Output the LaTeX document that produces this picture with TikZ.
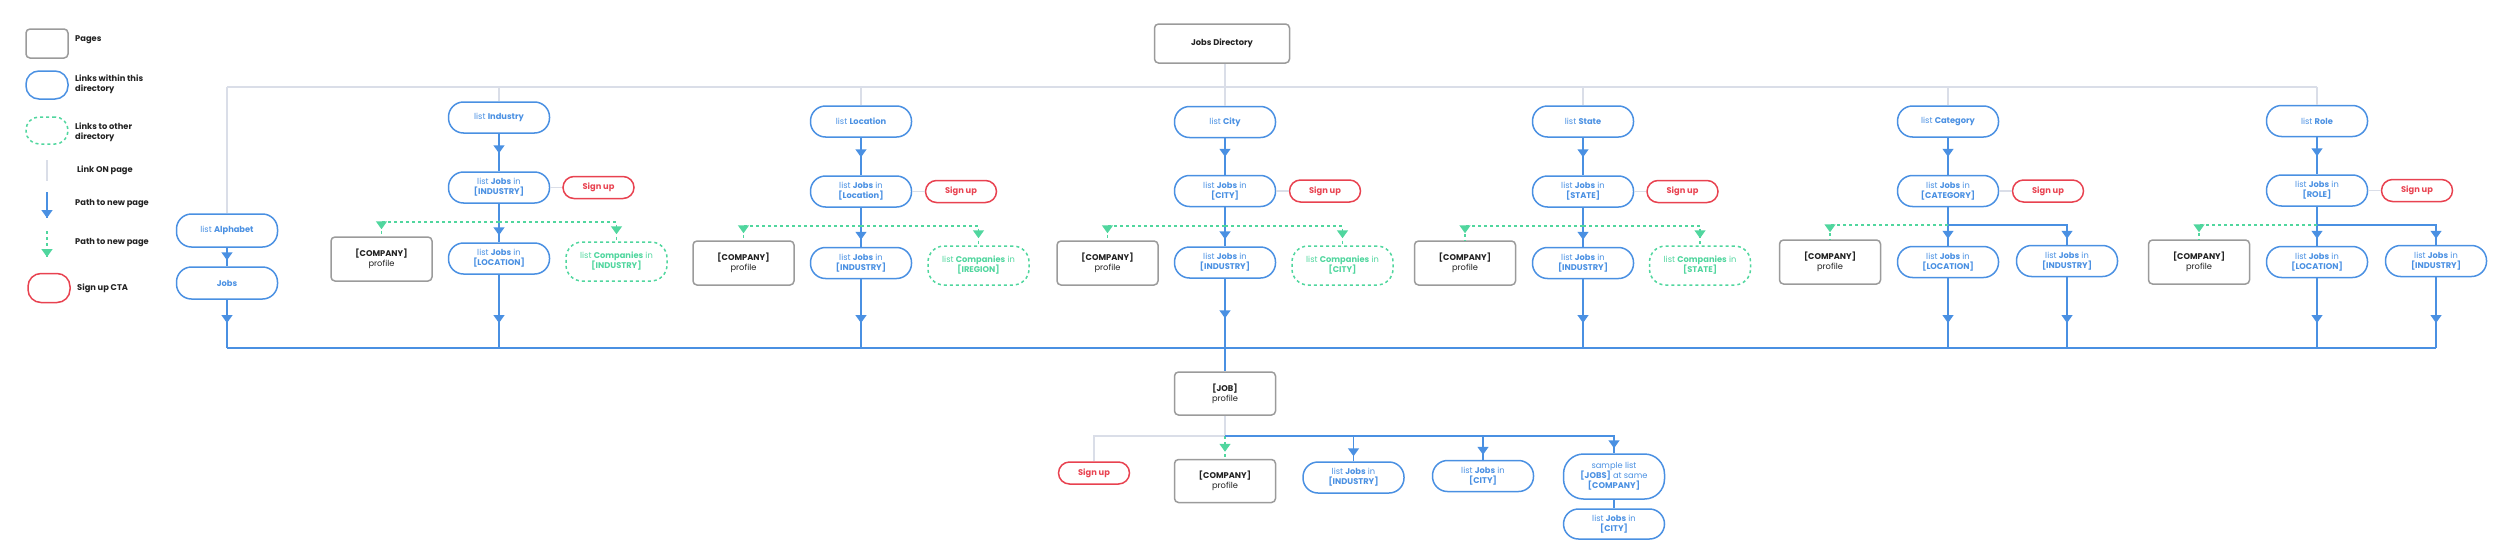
\documentclass[tikz,border=0pt]{standalone}
\usepackage{fontspec}
\setmainfont{Poppins}
\usetikzlibrary{arrows.meta}
\usetikzlibrary{decorations.markings}
\definecolor{linkblue}{RGB}{74,144,226}
\definecolor{othergreen}{RGB}{80,214,158}
\definecolor{ctared}{RGB}{232,66,80}
\definecolor{pagegray}{RGB}{155,155,155}
\definecolor{ongray}{RGB}{218,222,232}
\definecolor{inktext}{RGB}{34,34,34}
\newcommand{\dirfont}{\fontsize{8.3}{10}\selectfont}
\tikzset{newpage/.style = {decoration={markings,
                                  mark=at position #1 with {\arrow{Triangle[width=11pt, length=8pt]}}},
                      postaction={decorate}},
         newpage/.default = 0.5}
\tikzset{blueline/.style = {color = linkblue, line width = 1.5}}
\tikzset{greenline/.style = {color = othergreen, line width = 1.5, dash pattern = on 3pt off 3pt}}
\tikzset{onpage/.style = {color = ongray, line width = 1.5}}
\tikzset{pagebox/.style = {draw = pagegray, rectangle, rounded corners = 4, line width = 1.5, minimum width = 101, minimum height = 44, text = inktext, align = center}}
\tikzset{linkbox/.style = {draw = linkblue, rectangle, rounded corners = 15, line width = 1.5, minimum width = 101, minimum height = 31, text = linkblue, align = center}}
\tikzset{otherbox/.style = {draw = othergreen, rectangle, rounded corners = 16, line width = 1.5, dash pattern = on 3pt off 3pt, minimum width = 101, minimum height = 39, text = othergreen, align = center}}
\tikzset{ctabox/.style = {draw = ctared, rectangle, rounded corners = 11, line width = 1.5, minimum width = 71, minimum height = 22, text = ctared, font = \dirfont\bfseries}}
\tikzset{keytext/.style = {anchor = west, inner sep = 0, align = left, text = inktext, font = \dirfont\bfseries}}

\begin{document}
\begin{tikzpicture}[x = 1pt, y = -1pt, every node/.append style = {font = \dirfont}]
    \useasboundingbox (0, 0) rectangle (2500, 557);

    \node [pagebox, minimum width = 42, minimum height = 29] (keypage) at (47, 43.5) {};
    \node [keytext] (keypagetxt) at (75, 39.5) {Pages};

    \node [linkbox, minimum width = 42, minimum height = 28, rounded corners = 13] (keylink) at (47, 85) {};
    \node [keytext] (keylinktxt) at (75, 84) {Links within this\\directory};

    \node [otherbox, minimum width = 42, minimum height = 27, rounded corners = 13] (keyother) at (47, 130.5) {};
    \node [keytext] (keyothertxt) at (75, 132) {Links to other\\directory};

    \coordinate (keyon1) at (47, 160);
    \coordinate (keyon2) at (47, 181);
    \draw [onpage] (keyon1) -- (keyon2);
    \node [keytext] (keyontxt) at (77, 170.5) {Link ON page};

    \coordinate (keyblue1) at (47, 192);
    \coordinate (keyblue2) at (47, 218);
    \draw [blueline, newpage = 1] (keyblue1) -- (keyblue2);
    \node [keytext] (keybluetxt) at (75, 204) {Path to new page};

    \coordinate (keygreen1) at (47, 231);
    \coordinate (keygreen2) at (47, 257);
    \draw [greenline, newpage = 1] (keygreen1) -- (keygreen2);
    \node [keytext] (keygreentxt) at (75, 243) {Path to new page};

    \node [ctabox, minimum width = 42, minimum height = 29, rounded corners = 13] (keycta) at (49, 288) {};
    \node [keytext] (keyctatxt) at (77, 288) {Sign up CTA};

    \node [pagebox, minimum width = 135, minimum height = 39] (dir) at (1222, 43.5) {\textbf{Jobs Directory}};
    \coordinate (topbus) at (0, 87);
    \coordinate (bus) at (0, 348);

    \node [linkbox, minimum height = 33] (alpha) at (227, 230.5) {list \textbf{Alphabet}};
    \node [linkbox, minimum height = 32] (alphajobs) at (227, 283) {\textbf{Jobs}};
    \draw [onpage] (alpha |- topbus) -- (alpha);
    \draw [blueline, newpage = -6pt] (alpha) -- (alphajobs);
    \draw [blueline, newpage = -25pt] (alphajobs) -- (alphajobs |- bus);

    \node [linkbox] (indlist) at (499, 117.5) {list \textbf{Industry}};
    \node [linkbox] (indjobs) at (499, 187.5) {list \textbf{Jobs} in\\\textbf{[INDUSTRY]}};
    \node [ctabox] (indsign) at (598.5, 187.5) {Sign up};
    \node [pagebox] (indcomp) at (381.5, 259) {\textbf{[COMPANY]}\\profile};
    \node [linkbox] (indloc) at (499, 258.5) {list \textbf{Jobs} in\\\textbf{[LOCATION]}};
    \node [otherbox] (indother) at (616.5, 261.5) {list \textbf{Companies} in\\\textbf{[INDUSTRY]}};
    \coordinate (indfork) at (499, 222);
    \draw [onpage] (indlist |- topbus) -- (indlist);
    \draw [blueline, newpage = -18pt] (indlist) -- (indjobs);
    \draw [onpage] (indjobs) -- (indsign);
    \draw [blueline, newpage = -7pt] (indjobs) -- (indloc);
    \draw [greenline, newpage = -7pt] (indfork) -| (indcomp);
    \draw [greenline, newpage = -7pt] (indfork) -| (indother);
    \draw [blueline, newpage = -25pt] (indloc) -- (indloc |- bus);

    \node [linkbox] (loclist) at (861, 121.5) {list \textbf{Location}};
    \node [linkbox] (locjobs) at (861, 191.5) {list \textbf{Jobs} in\\\textbf{[Location]}};
    \node [ctabox] (locsign) at (961, 191.5) {Sign up};
    \node [pagebox] (loccomp) at (743.5, 263) {\textbf{[COMPANY]}\\profile};
    \node [linkbox] (locind) at (861, 263) {list \textbf{Jobs} in\\\textbf{[INDUSTRY]}};
    \node [otherbox] (locother) at (978.5, 265.5) {list \textbf{Companies} in\\\textbf{[IREGION]}};
    \coordinate (locfork) at (861, 226);
    \draw [onpage] (loclist |- topbus) -- (loclist);
    \draw [blueline, newpage = -18pt] (loclist) -- (locjobs);
    \draw [onpage] (locjobs) -- (locsign);
    \draw [blueline, newpage = -7pt] (locjobs) -- (locind);
    \draw [greenline, newpage = -7pt] (locfork) -| (loccomp);
    \draw [greenline, newpage = -7pt] (locfork) -| (locother);
    \draw [blueline, newpage = -25pt] (locind) -- (locind |- bus);

    \node [linkbox] (citylist) at (1225, 122) {list \textbf{City}};
    \node [linkbox] (cityjobs) at (1225, 191) {list \textbf{Jobs} in\\\textbf{[CITY]}};
    \node [ctabox] (citysign) at (1325, 191) {Sign up};
    \node [pagebox] (citycomp) at (1107.5, 263) {\textbf{[COMPANY]}\\profile};
    \node [linkbox] (cityind) at (1225, 262.5) {list \textbf{Jobs} in\\\textbf{[INDUSTRY]}};
    \node [otherbox] (cityother) at (1342.5, 265.5) {list \textbf{Companies} in\\\textbf{[CITY]}};
    \coordinate (cityfork) at (1225, 226);
    \draw [onpage] (dir.south -| citylist) -- (citylist);
    \draw [blueline, newpage = -18pt] (citylist) -- (cityjobs);
    \draw [onpage] (cityjobs) -- (citysign);
    \draw [blueline, newpage = -7pt] (cityjobs) -- (cityind);
    \draw [greenline, newpage = -7pt] (cityfork) -| (citycomp);
    \draw [greenline, newpage = -7pt] (cityfork) -| (cityother);

    \node [linkbox] (statelist) at (1583, 121.5) {list \textbf{State}};
    \node [linkbox] (statejobs) at (1583, 191.5) {list \textbf{Jobs} in\\\textbf{[STATE]}};
    \node [ctabox] (statesign) at (1682.5, 191.5) {Sign up};
    \node [pagebox] (statecomp) at (1465, 263) {\textbf{[COMPANY]}\\profile};
    \node [linkbox] (stateind) at (1583, 263) {list \textbf{Jobs} in\\\textbf{[INDUSTRY]}};
    \node [otherbox] (stateother) at (1700, 265.5) {list \textbf{Companies} in\\\textbf{[STATE]}};
    \coordinate (statefork) at (1583, 226);
    \draw [onpage] (statelist |- topbus) -- (statelist);
    \draw [blueline, newpage = -18pt] (statelist) -- (statejobs);
    \draw [onpage] (statejobs) -- (statesign);
    \draw [blueline, newpage = -7pt] (statejobs) -- (stateind);
    \draw [greenline, newpage = -7pt] (statefork) -| (statecomp);
    \draw [greenline, newpage = -7pt] (statefork) -| (stateother);
    \draw [blueline, newpage = -25pt] (stateind) -- (stateind |- bus);

    \node [linkbox] (catlist) at (1948, 121.5) {list \textbf{Category}};
    \node [linkbox] (catjobs) at (1948, 191) {list \textbf{Jobs} in\\\textbf{[CATEGORY]}};
    \node [ctabox] (catsign) at (2048, 191) {Sign up};
    \node [pagebox] (catcomp) at (1830, 262) {\textbf{[COMPANY]}\\profile};
    \node [linkbox] (catloc) at (1948, 262) {list \textbf{Jobs} in\\\textbf{[LOCATION]}};
    \node [linkbox] (catind) at (2067, 261) {list \textbf{Jobs} in\\\textbf{[INDUSTRY]}};
    \coordinate (catfork) at (1948, 225);
    \draw [onpage] (catlist |- topbus) -- (catlist);
    \draw [blueline, newpage = -18pt] (catlist) -- (catjobs);
    \draw [onpage] (catjobs) -- (catsign);
    \draw [blueline, newpage = -7pt] (catjobs) -- (catloc);
    \draw [blueline, newpage = -6pt] (catfork) -| (catind);
    \draw [greenline, newpage = -7pt] (catfork) -| (catcomp);
    \draw [blueline, newpage = -25pt] (catloc) -- (catloc |- bus);
    \draw [blueline, newpage = -25pt] (catind) -- (catind |- bus);

    \node [linkbox] (rolelist) at (2317, 121) {list \textbf{Role}};
    \node [linkbox] (rolejobs) at (2317, 190.5) {list \textbf{Jobs} in\\\textbf{[ROLE]}};
    \node [ctabox] (rolesign) at (2417, 190.5) {Sign up};
    \node [pagebox] (rolecomp) at (2199, 262) {\textbf{[COMPANY]}\\profile};
    \node [linkbox] (roleloc) at (2317, 262) {list \textbf{Jobs} in\\\textbf{[LOCATION]}};
    \node [linkbox] (roleind) at (2436, 261) {list \textbf{Jobs} in\\\textbf{[INDUSTRY]}};
    \coordinate (rolefork) at (2317, 225);
    \draw [onpage] (rolelist |- topbus) -- (rolelist);
    \draw [blueline, newpage = -18pt] (rolelist) -- (rolejobs);
    \draw [onpage] (rolejobs) -- (rolesign);
    \draw [blueline, newpage = -7pt] (rolejobs) -- (roleloc);
    \draw [blueline, newpage = -6pt] (rolefork) -| (roleind);
    \draw [greenline, newpage = -7pt] (rolefork) -| (rolecomp);
    \draw [blueline, newpage = -25pt] (roleloc) -- (roleloc |- bus);
    \draw [blueline, newpage = -25pt] (roleind) -- (roleind |- bus);

    \draw [onpage] (alpha |- topbus) -- (rolelist |- topbus);
    \draw [blueline] (alphajobs |- bus) -- (roleind |- bus);

    \node [pagebox, minimum height = 43] (job) at (1225, 393.5) {\textbf{[JOB]}\\profile};
    \draw [blueline, newpage = -53pt] (cityind) -- (job);

    \node [ctabox] (jobsign) at (1094, 473) {Sign up};
    \node [pagebox, minimum height = 43] (jobcomp) at (1225, 481) {\textbf{[COMPANY]}\\profile};
    \node [linkbox] (jobind) at (1353.5, 477.5) {list \textbf{Jobs} in\\\textbf{[INDUSTRY]}};
    \node [linkbox] (jobcity) at (1483, 476) {list \textbf{Jobs} in\\\textbf{[CITY]}};
    \node [linkbox, minimum height = 45, rounded corners = 20] (jobsame) at (1614, 476.5) {sample list\\\textbf{[JOBS]} at same\\\textbf{[COMPANY]}};
    \node [linkbox, minimum height = 30] (samecity) at (1614, 524) {list \textbf{Jobs} in\\\textbf{[CITY]}};
    \coordinate (jobfork) at (1225, 436);
    \draw [onpage] (job) -- (jobfork) -| (jobsign);
    \draw [greenline, newpage = -7pt] (jobfork) -- (jobcomp);
    \draw [blueline, newpage = -5pt] (jobfork) -| (jobind);
    \draw [blueline, newpage = -5pt] (jobfork) -| (jobcity);
    \draw [blueline, newpage = -5pt] (jobfork) -| (jobsame);
    \draw [blueline] (jobsame) -- (samecity);
  \end{tikzpicture}
\end{document}
